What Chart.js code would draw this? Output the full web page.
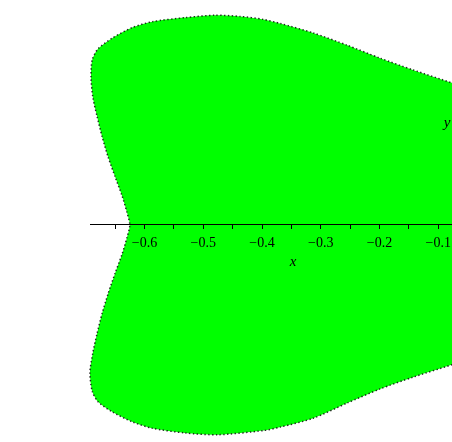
<!DOCTYPE html>
<html>
<head>
<meta charset="utf-8">
<script src="https://cdn.jsdelivr.net/npm/chart.js@4/dist/chart.umd.min.js"></script>
<style>
html,body{margin:0;padding:0;background:#fff;overflow:hidden;width:452px;height:442px;}
canvas{display:block;}
</style>
</head>
<body>
<canvas id="c" width="500" height="442"></canvas>
<script>
// Boundary of the filled region, upper half (right -> left, ending on the x axis)
const upperX = [-0.012, -0.077, -0.143, -0.199, -0.255, -0.313, -0.369, -0.398, -0.437, -0.480, -0.531, -0.587, -0.621, -0.655, -0.679, -0.689, -0.691, -0.688, -0.681, -0.672, -0.662, -0.650, -0.638, -0.630, -0.625];
const upperY = [0.220, 0.242, 0.264, 0.284, 0.306, 0.327, 0.343, 0.350, 0.355, 0.357, 0.353, 0.346, 0.336, 0.318, 0.300, 0.281, 0.252, 0.218, 0.186, 0.150, 0.116, 0.082, 0.049, 0.022, 0.000];
// Lower half (left -> right)
const lowerX = [-0.630, -0.638, -0.650, -0.662, -0.672, -0.681, -0.688, -0.693, -0.689, -0.679, -0.655, -0.621, -0.587, -0.531, -0.475, -0.398, -0.369, -0.313, -0.255, -0.199, -0.143, -0.077, -0.012];
const lowerY = [-0.022, -0.049, -0.082, -0.117, -0.150, -0.186, -0.218, -0.252, -0.283, -0.301, -0.318, -0.335, -0.346, -0.354, -0.357, -0.350, -0.344, -0.329, -0.303, -0.279, -0.259, -0.238, -0.216];

// Axis ticks
const tickValues = [-0.65, -0.6, -0.55, -0.5, -0.45, -0.4, -0.35, -0.3, -0.25, -0.2, -0.15, -0.1, -0.05];
const majorTicks = [-0.6, -0.5, -0.4, -0.3, -0.2, -0.1];
const xRange = [-0.69277, 0.0051];
const yRange = [-0.3694, 0.3830];
const axisLabels = {x: 'x', y: 'y'};

const pts = [];
upperX.forEach((x, i) => pts.push({x: x, y: upperY[i]}));
lowerX.forEach((x, i) => pts.push({x: x, y: lowerY[i]}));
pts.push({x: upperX[0], y: upperY[0]});

const labelPlugin = {
  id: 'axisLabels',
  afterDraw(chart) {
    const ctx = chart.ctx;
    const xs = chart.scales.x, ys = chart.scales.y;
    ctx.save();
    ctx.fillStyle = '#000';
    ctx.font = 'italic 15px "Liberation Serif", "DejaVu Serif", serif';
    ctx.textAlign = 'center';
    ctx.textBaseline = 'middle';
    ctx.fillText(axisLabels.x, xs.getPixelForValue(-0.347), ys.getPixelForValue(-0.063));
    ctx.fillText(axisLabels.y, xs.getPixelForValue(-0.085), ys.getPixelForValue(0.174));
    ctx.restore();
  }
};

new Chart(document.getElementById('c'), {
  type: 'scatter',
  data: {
    datasets: [{
      data: pts,
      showLine: true,
      fill: 'shape',
      backgroundColor: '#00ff00',
      borderColor: 'rgba(20,20,20,0.9)',
      borderWidth: 1.5,
      borderDash: [1.4, 2.4],
      pointRadius: 0,
      tension: 0.25,
      clip: false
    }]
  },
  options: {
    responsive: false,
    animation: false,
    devicePixelRatio: 1,
    layout: {padding: {left: 90, right: 0, top: 0, bottom: 0}},
    plugins: {legend: {display: false}, tooltip: {enabled: false}},
    scales: {
      x: {
        type: 'linear',
        position: {y: 0},
        min: xRange[0],
        max: xRange[1],
        afterBuildTicks: s => { s.ticks = tickValues.map(v => ({value: v})); },
        border: {display: true, color: '#000', width: 1, z: 2},
        grid: {drawOnChartArea: false, drawTicks: true, tickLength: 4, color: '#000', lineWidth: 1, z: 2},
        ticks: {
          z: 2,
          autoSkip: false,
          maxRotation: 0,
          padding: 6,
          color: '#000',
          font: {family: '"Liberation Serif", "DejaVu Serif", serif', size: 14},
          callback: v => {
            const m = majorTicks.find(t => Math.abs(t - v) < 1e-9);
            if (m === undefined) return '';
            return (m < 0 ? '\u2212' : '') + Math.abs(m).toFixed(1);
          }
        }
      },
      y: {
        type: 'linear',
        display: false,
        min: yRange[0],
        max: yRange[1]
      }
    }
  },
  plugins: [labelPlugin]
});
</script>
</body>
</html>
